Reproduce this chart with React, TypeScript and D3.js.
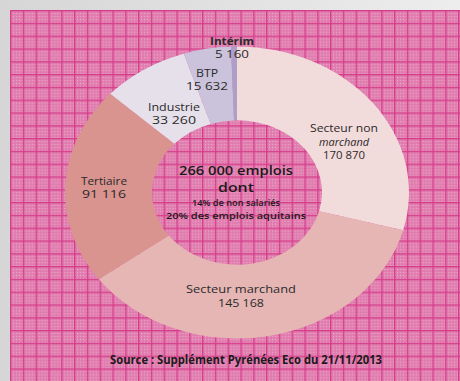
import React from "react";
import * as d3 from "d3";

// Slice categories (clockwise from 12 o'clock)
const categories = ["Secteur non marchand", "Secteur marchand", "Tertiaire", "Industrie", "BTP", "Intérim"];
// Employment figures shown in labels
const jobValues = [170870, 145168, 91116, 33260, 15632, 5160];
// Angular share of each slice as drawn in the picture (degrees)
const sliceShares = [105, 128.5, 79, 29.5, 16, 2];
const sliceColors = ["#f2dbdb", "#e5b6b4", "#d9948f", "#e6e0eb", "#cbc2dc", "#ae9fc8"];

const centerLines = ["266 000 emplois", "dont", "14% de non salariés", "20% des emplois aquitains"];
const sourceText = "Source : Supplément Pyrénées Eco du 21/11/2013";

const fmt = (v: number) => d3.format(",")(v).replace(/,/g, " ");

export default function App() {
  const W = 460, H = 381;
  const cx = 237, cy = 192.5;
  const rOuter = 172, rInner = 85;
  const sy = 146 / 172;

  const pie = d3.pie<number>().sort(null).value((d) => d).startAngle(0).endAngle(2 * Math.PI);
  const arcs = pie(sliceShares);
  const arc = d3.arc<d3.PieArcDatum<number>>().innerRadius(rInner).outerRadius(rOuter);

  const font = "'Open Sans', 'DejaVu Sans', sans-serif";

  type Lbl = { x: number; y: number; lines: { t: string; size: number; w?: number; bold?: boolean; italic?: boolean }[]; gap: number };
  const labels: Lbl[] = [
    { x: 344, y: 132, gap: 13.5, lines: [{ t: "Secteur non", size: 10, w: 68 }, { t: "marchand", size: 10, w: 50, italic: true }, { t: fmt(jobValues[0]), size: 10, w: 42 }] },
    { x: 241, y: 293, gap: 13.5, lines: [{ t: categories[1], size: 10, w: 110 }, { t: fmt(jobValues[1]), size: 10, w: 46 }] },
    { x: 104, y: 185, gap: 13, lines: [{ t: categories[2], size: 10, w: 46 }, { t: fmt(jobValues[2]), size: 10, w: 44 }] },
    { x: 174, y: 111, gap: 13, lines: [{ t: categories[3], size: 10, w: 52 }, { t: fmt(jobValues[3]), size: 10, w: 44 }] },
    { x: 207, y: 77, gap: 13, lines: [{ t: categories[4], size: 10, w: 22 }, { t: fmt(jobValues[4]), size: 10, w: 42 }] },
    { x: 232, y: 45, gap: 12.5, lines: [{ t: categories[5], size: 10, w: 44, bold: true }, { t: fmt(jobValues[5]), size: 10, w: 34 }] },
  ];

  return (
    <svg width={W} height={H} style={{ position: "absolute", left: 0, top: 0 }} xmlns="http://www.w3.org/2000/svg">
      <defs>
        <linearGradient id="bgGrey" x1="0" y1="0" x2="1" y2="0">
          <stop offset="0" stopColor="#d6d6d6" />
          <stop offset="1" stopColor="#ededed" />
        </linearGradient>
        <pattern id="dots" width="3" height="3" patternUnits="userSpaceOnUse">
          <rect width="3" height="3" fill="#e07cae" />
          <rect width="1" height="1" fill="#eeacce" />
        </pattern>
        <pattern id="grid" x="10" y="10" width="12.8" height="12.8" patternUnits="userSpaceOnUse">
          <rect width="12.8" height="12.8" fill="url(#dots)" />
          <rect x="0" y="0" width="12.8" height="1.3" fill="#d63c8a" />
          <rect x="0" y="0" width="1.3" height="12.8" fill="#d63c8a" />
        </pattern>
      </defs>
      <rect x={0} y={0} width={W} height={H} fill="url(#bgGrey)" />
      <rect x={10} y={10} width={W - 10} height={H - 10} fill="url(#grid)" />

      <g transform={`translate(${cx},${cy}) scale(1,${sy})`}>
        {arcs.map((a, i) => (
          <path key={categories[i]} d={arc(a) || ""} fill={sliceColors[i]} />
        ))}
      </g>

      {labels.map((l, i) => (
        <g key={i}>
          {l.lines.map((ln, j) => (
            <text
              key={j}
              x={l.x}
              y={l.y + j * l.gap}
              textAnchor="middle"
              fontFamily={font}
              fontSize={ln.size}
              fontWeight={ln.bold ? 700 : 400}
              fontStyle={ln.italic ? "italic" : "normal"}
              fill="#2a2a2a"
              textLength={ln.w}
              lengthAdjust="spacingAndGlyphs"
            >
              {ln.t}
            </text>
          ))}
        </g>
      ))}

      <text x={236} y={175} textAnchor="middle" fontFamily={font} fontSize={12.5} fontWeight={600} fill="#1a1a1a" textLength={114} lengthAdjust="spacingAndGlyphs">{centerLines[0]}</text>
      <text x={236} y={192} textAnchor="middle" fontFamily={font} fontSize={12.5} fontWeight={600} fill="#1a1a1a" textLength={36} lengthAdjust="spacingAndGlyphs">{centerLines[1]}</text>
      <text x={236} y={205.5} textAnchor="middle" fontFamily={font} fontSize={9} fontWeight={600} fill="#1a1a1a" textLength={88} lengthAdjust="spacingAndGlyphs">{centerLines[2]}</text>
      <text x={236} y={218.5} textAnchor="middle" fontFamily={font} fontSize={9} fontWeight={600} fill="#1a1a1a" textLength={140} lengthAdjust="spacingAndGlyphs">{centerLines[3]}</text>

      <text x={246} y={364} textAnchor="middle" fontFamily={font} fontSize={11.5} fontWeight={700} fill="#1a1a1a" textLength={272} lengthAdjust="spacingAndGlyphs">{sourceText}</text>
    </svg>
  );
}
